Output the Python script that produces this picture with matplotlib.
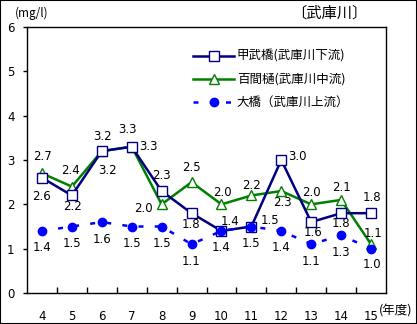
import numpy as np
import matplotlib.pyplot as plt
from matplotlib.patches import Rectangle

plt.rcParams['font.family'] = ['Noto Sans CJK JP', 'DejaVu Sans']

# data
years = ['4', '5', '6', '7', '8', '9', '10', '11', '12', '13', '14', '15']
kobu = [2.6, 2.2, 3.2, 3.3, 2.3, 1.8, 1.4, 1.5, 3.0, 1.6, 1.8, 1.8]
hyakken = [2.7, 2.4, 3.2, 3.3, 2.0, 2.5, 2.0, 2.2, 2.3, 2.0, 2.1, 1.1]
ohashi = [1.4, 1.5, 1.6, 1.5, 1.5, 1.1, 1.4, 1.5, 1.4, 1.1, 1.3, 1.0]
names = ['甲武橋(武庫川下流)', '百間樋(武庫川中流)', '大橋（武庫川上流）']

# label offsets in pixels (dx, dy)
off_kobu = [(0, -19), (1, -11), (1, 15), (17, 0), (0, 16), (-1, -11),
            (9, 9), (19, 6), (16, 3), (2, -10), (0, -10), (1, 16)]
off_hyak = [(1, 17), (-1, 16), (6, -19), (-4, 17), (-18, -4), (0, 15),
            (1, 12), (0, 10), (1, -11), (0, 12), (0, 12), (2, 11)]
off_oha = [(0, -17)] * 11 + [(1, -16)]

x = np.arange(len(years))

fig = plt.figure(figsize=(4.17, 3.24), dpi=100)
ax = fig.add_axes([27 / 417, 1 - 293 / 324, 359 / 417, 266 / 324])

ax.plot(x, kobu, color='#000080', lw=1.8, marker='s', ms=7.5,
        mfc='white', mec='#000080', mew=1.0, label=names[0], zorder=3)
ax.plot(x, hyakken, color='#008000', lw=1.8, marker='^', ms=7.5,
        mfc='white', mec='#008000', mew=1.0, label=names[1], zorder=2)
ax.plot(x, ohashi, color='#0000FF', lw=1.8, dashes=(2, 4.5), marker='o', ms=6,
        mfc='#0000FF', mec='#0000FF', label=names[2], zorder=4)

for vals, offs in [(kobu, off_kobu), (hyakken, off_hyak), (ohashi, off_oha)]:
    for xi, v, (dx, dy) in zip(x, vals, offs):
        ax.annotate(f'{v:.1f}', (xi, v), xytext=(dx, dy),
                    textcoords='offset pixels', ha='center', va='center',
                    fontsize=8.5, family='DejaVu Sans')

ax.set_xlim(-0.5, len(years) - 0.5)
ax.set_ylim(0, 6)
ax.set_yticks(range(7))
ax.set_xticks(x)
ax.set_xticklabels(years, fontsize=8.5, family='DejaVu Sans')
ax.set_xticks(np.arange(0.5, len(years) - 1, 1), minor=True)
ax.tick_params(axis='x', which='major', length=0, pad=12)
ax.tick_params(axis='x', which='minor', direction='in', length=4, width=1)
ax.tick_params(axis='y', direction='out', length=3, width=1, pad=6,
               labelsize=8.5)
for lab in ax.get_yticklabels():
    lab.set_family('DejaVu Sans')
for s in ax.spines.values():
    s.set_color('black')
    s.set_linewidth(1)

leg = ax.legend(loc='upper left', bbox_to_anchor=(193 / 417, 1 - 50 / 324),
                bbox_transform=fig.transFigure, frameon=False, fontsize=9,
                handlelength=3.3, handletextpad=0.2, labelspacing=0.8,
                borderpad=0, borderaxespad=0)

fig.text(15 / 417, 1 - 13 / 324, '(mg/l)', fontsize=8.5, va='center', ha='left')
fig.text(329 / 417, 1 - 13 / 324, '〔武庫川〕', fontsize=11, va='center', ha='center')
fig.text(396 / 417, 1 - 311 / 324, '(年度)', fontsize=9, va='center', ha='center')

fig.patches.append(Rectangle((0, 0), 1, 1, transform=fig.transFigure,
                             fill=False, edgecolor='black', lw=1.5))

fig.savefig('out.png', dpi=100)
